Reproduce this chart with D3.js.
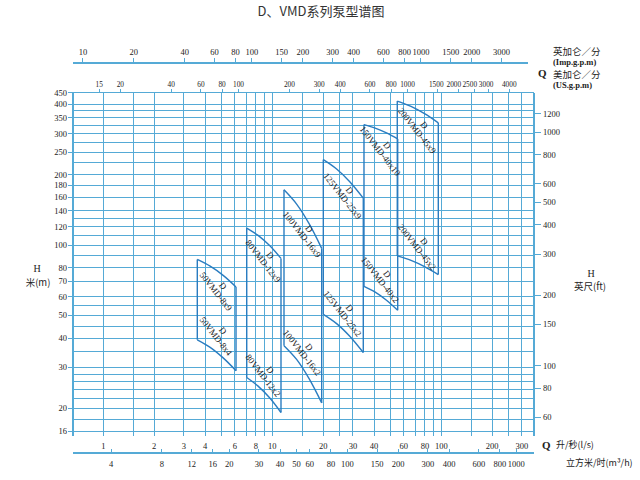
<!DOCTYPE html>
<html><head><meta charset="utf-8">
<script src="https://cdn.jsdelivr.net/npm/d3@7"></script>
<style>body{margin:0;background:#fff}</style>
</head><body><svg id="c" width="640" height="480"></svg>
<script>
// ---- axis data ----
const qGrid = [1,1.5,2,3,4,5,6,7,8,9,10,15,20,25,30,40,50,60,70,80,90,100,150,200,250,300];
const qLabels = [1,2,3,4,6,8,10,20,30,40,60,80,100,200,300];
const m3hLabels = [4,8,12,16,20,30,40,50,60,80,100,150,200,300,400,600,800,1000];
const impLabels = [10,20,40,60,80,100,150,200,300,400,600,800,1000,1500,2000,3000];
const usLabels = [15,20,40,60,80,100,200,300,400,600,800,1000,1500,2000,2500,3000,4000];
const hGrid = [16,18,20,22,24,26,28,30,35,40,45,50,55,60,70,80,90,100,110,120,130,140,160,180,200,225,250,275,300,325,350,375,400,450];
const hLabels = [16,20,30,40,50,60,70,80,100,120,140,160,180,200,250,300,350,400,450];
const ftLabels = [60,80,100,150,200,300,400,500,600,800,1000,1200];

// ---- pump data (Q in l/s, H in m) ----
const pumpModels = ["50VMD-8","80VMD-12","100VMD-16","125VMD-25","150VMD-40","200VMD-45"];
const pumpMaxStages = ["x9","x9","x9","x9","x10","x9"];
const pumpMinStages = ["x4","x2","x2","x2","x2","x2"];
const pumpQ = [
  [3.60,4.29,5.12,6.10],
  [7.06,8.24,9.64,11.26],
  [11.73,13.93,16.51,19.60],
  [20.04,24.02,28.83,34.55],
  [34.88,40.64,47.39,55.21],
  [54.9,66.2,79.6,96.0]
];
const pumpTopH = [
  [86.8,81.2,74.2,66.2],
  [118.3,110.0,99.5,87.7],
  [172.4,149.8,123.5,96.8],
  [232.1,211.7,186.4,158.8],
  [328.1,317.0,302.3,284.9],
  [413.4,392.3,365.1,333.7]
];
const pumpBottomH = [
  [39.3,36.5,32.9,29.0],
  [27.1,24.9,22.2,19.2],
  [37.1,32.4,26.8,21.1],
  [50.5,46.1,40.6,34.7],
  [66.6,62.9,58.1,52.6],
  [89.9,86.0,80.9,74.8]
];

// unit conversions to l/s and m
const IMP = 0.0757682, US = 0.0630902, M3H = 1/3.6, FT = 0.3048;

const svg = d3.select("#c");
const L = 73, R = 534, T = 92.5, B = 431;
const x = d3.scaleLog().domain([0.662, 353.6]).range([L, R]);
const y = d3.scaleLog().domain([16, 450]).range([B, T]);

const gridC = "#55aad6", curveC = "#2a7cc0", txtC = "#222";
const serif = "'Liberation Serif','DejaVu Serif',serif";
const cjk = "'Noto Sans CJK SC','Noto Sans',sans-serif";

// title
svg.append("text").attr("x", 321).attr("y", 16).attr("text-anchor","middle")
  .attr("font-family", cjk).attr("font-size", 13).attr("fill", "#333")
  .text("D、VMD系列泵型谱图");

const g = svg.append("g").attr("shape-rendering","crispEdges");
// horizontal grid
g.selectAll(".hg").data(hGrid).join("line")
  .attr("x1", L).attr("x2", R).attr("y1", d=>y(d)).attr("y2", d=>y(d))
  .attr("stroke", gridC).attr("stroke-width", 1);
// vertical grid
g.selectAll(".vg").data(qGrid).join("line")
  .attr("x1", d=>x(d)).attr("x2", d=>x(d)).attr("y1", T).attr("y2", B+5)
  .attr("stroke", gridC).attr("stroke-width", 1);
// borders
[L, R].forEach(v => g.append("line").attr("x1", v).attr("x2", v).attr("y1", T).attr("y2", B+5)
  .attr("stroke", gridC).attr("stroke-width", 1.2));

// left H ticks & labels
g.selectAll(".lt").data(hLabels).join("line")
  .attr("x1", L-5).attr("x2", L).attr("y1", d=>y(d)).attr("y2", d=>y(d)).attr("stroke", gridC);
svg.selectAll(".ll").data(hLabels).join("text")
  .attr("x", L-6).attr("y", d=>y(d)+3).attr("text-anchor","end")
  .attr("font-family", serif).attr("font-size", 8.5).attr("fill", txtC).text(d=>d);

// right ft ticks & labels
const yft = d => y(d*FT);
g.selectAll(".rt").data(ftLabels).join("line")
  .attr("x1", R).attr("x2", R+7).attr("y1", yft).attr("y2", yft).attr("stroke", gridC);
svg.selectAll(".rl").data(ftLabels).join("text")
  .attr("x", R+9).attr("y", d=>yft(d)+3).attr("text-anchor","start")
  .attr("font-family", serif).attr("font-size", 8.5).attr("fill", txtC).text(d=>d);

// bottom main labels (l/s)
svg.selectAll(".bl").data(qLabels).join("text")
  .attr("x", d=>x(d)).attr("y", 448.5).attr("text-anchor","middle")
  .attr("font-family", serif).attr("font-size", 8.5).attr("fill", txtC).text(d=>d);

// bottom m3/h axis
const A2 = 453;
g.append("line").attr("x1", L).attr("x2", R).attr("y1", A2).attr("y2", A2).attr("stroke", gridC).attr("stroke-width",1.2);
g.selectAll(".mt").data(m3hLabels).join("line")
  .attr("x1", d=>x(d*M3H)).attr("x2", d=>x(d*M3H)).attr("y1", A2-4).attr("y2", A2).attr("stroke", gridC);
svg.selectAll(".ml").data(m3hLabels).join("text")
  .attr("x", d=>x(d*M3H)).attr("y", 466.5).attr("text-anchor","middle")
  .attr("font-family", serif).attr("font-size", 8.5).attr("fill", txtC).text(d=>d);

// top Imp gpm axis
const A0 = 63;
g.append("line").attr("x1", L).attr("x2", 528).attr("y1", A0).attr("y2", A0).attr("stroke", gridC).attr("stroke-width",1.2);
g.selectAll(".it").data(impLabels).join("line")
  .attr("x1", d=>x(d*IMP)).attr("x2", d=>x(d*IMP)).attr("y1", A0-5).attr("y2", A0).attr("stroke", gridC);
svg.selectAll(".il").data(impLabels).join("text")
  .attr("x", d=>x(d*IMP)).attr("y", 55).attr("text-anchor","middle")
  .attr("font-family", serif).attr("font-size", 8.5).attr("fill", txtC).text(d=>d);

// US gpm ticks on top border
const usNudge = {1500: -1, 2000: -4.5, 2500: -5, 3000: -2};
g.selectAll(".ut").data(usLabels).join("line")
  .attr("x1", d=>x(d*US)).attr("x2", d=>x(d*US)).attr("y1", T-4).attr("y2", T).attr("stroke", gridC);
svg.selectAll(".ul").data(usLabels).join("text")
  .attr("x", d=>x(d*US) + (usNudge[d] || 0)).attr("y", 86.5).attr("text-anchor","middle")
  .attr("font-family", serif).attr("font-size", 7.3).attr("fill", txtC).text(d=>d);

// unit texts
function t(xp, yp, s, opts={}) {
  return svg.append("text").attr("x", xp).attr("y", yp).text(s)
    .attr("font-family", opts.f || serif).attr("font-size", opts.s || 9)
    .attr("font-weight", opts.w || "normal").attr("fill", txtC)
    .attr("text-anchor", opts.a || "start");
}
t(553, 55, "英加仑／分", {f: cjk, s: 9.5});
t(553, 64.5, "(Imp.g.p.m)", {s: 8.5, w: "bold"});
t(538, 77, "Q", {s: 11, w: "bold"});
t(553, 78, "美加仑／分", {f: cjk, s: 9.5});
t(553, 87.5, "(US.g.p.m)", {s: 8.5, w: "bold"});
t(37, 272, "H", {s: 10, a: "middle"});
t(38, 286, "米(m)", {f: cjk, s: 9.5, a: "middle"});
t(591, 277, "H", {s: 10, a: "middle"});
t(590, 290, "英尺(ft)", {f: cjk, s: 9.5, a: "middle"});
t(542, 449, "Q", {s: 11, w: "bold"});
t(556, 448, "升/秒(l/s)", {f: cjk, s: 9});
t(566, 466, "立方米/时(m³/h)", {f: cjk, s: 9});

// pump regions
const line = d3.line().x(d=>x(d[0])).y(d=>y(d[1])).curve(d3.curveCatmullRom);
const pg = svg.append("g").attr("fill","none").attr("stroke", curveC).attr("stroke-width", 1.4);
pumpModels.forEach((m, i) => {
  const q = pumpQ[i];
  const top = q.map((v,k)=>[v, pumpTopH[i][k]]);
  const bot = q.map((v,k)=>[v, pumpBottomH[i][k]]);
  pg.append("path").attr("d", line(top));
  pg.append("path").attr("d", line(bot));
  pg.append("line").attr("x1", x(q[0])).attr("x2", x(q[0])).attr("y1", y(top[0][1])).attr("y2", y(bot[0][1]));
  const n = q.length-1;
  pg.append("line").attr("x1", x(q[n])).attr("x2", x(q[n])).attr("y1", y(top[n][1])).attr("y2", y(bot[n][1]));

  const cx = (x(q[0]) + x(q[n]))/2;
  const topMid = (y(top[1][1]) + y(top[2][1]))/2;
  const botMid = (y(bot[1][1]) + y(bot[2][1]))/2;
  const labs = [[topMid + 20, m + pumpMaxStages[i]], [botMid - 17, m + pumpMinStages[i]]];
  labs.forEach(([cy, name]) => {
    const lg = svg.append("g").attr("transform", `translate(${cx},${cy}) rotate(52)`);
    lg.append("text").attr("x", 0).attr("y", -5).attr("text-anchor","middle")
      .attr("font-family", serif).attr("font-size", 9).attr("fill", txtC).text("D");
    lg.append("text").attr("x", 0).attr("y", 4).attr("text-anchor","middle")
      .attr("font-family", serif).attr("font-size", 9).attr("fill", txtC).text(name);
  });
});
</script>
</body></html>
